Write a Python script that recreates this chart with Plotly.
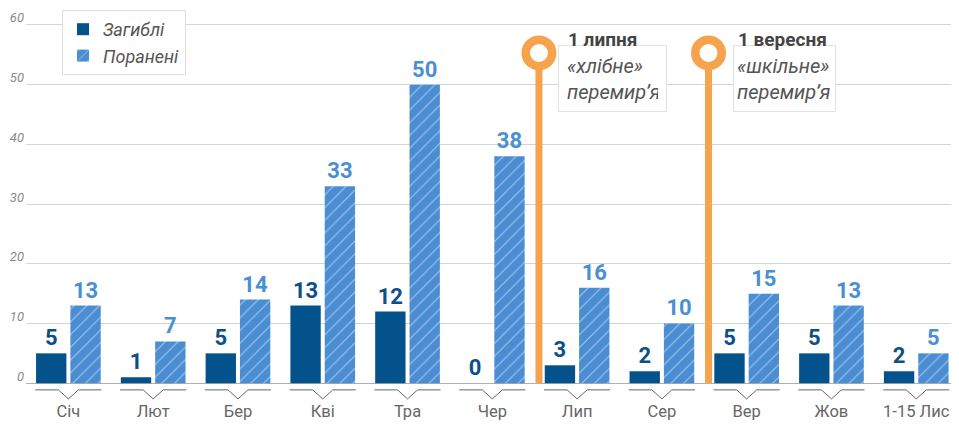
import plotly.graph_objects as go

months = ["Січ", "Лют", "Бер", "Кві", "Тра", "Чер", "Лип", "Сер", "Вер", "Жов", "1-15 Лис"]
killed = [5, 1, 5, 13, 12, 0, 3, 2, 5, 5, 2]
wounded = [13, 7, 14, 33, 50, 38, 16, 10, 15, 13, 5]
series_names = ["Загиблі", "Поранені"]
y_ticks = [0, 10, 20, 30, 40, 50, 60]

truce_months = ["Лип", "Вер"]
truce_titles = ["1 липня", "1 вересня"]
truce_texts = ["«хлібне»<br>перемир’я", "«шкільне»<br>перемир’я"]

DARK = "#04528c"
LIGHT = "#4a8dd2"
ORANGE = "#f7a24d"
FONT = "Roboto"

idx = list(range(len(months)))

fig = go.Figure()

fig.add_trace(go.Bar(
    x=idx, y=killed, name=series_names[0],
    marker=dict(color=DARK, line=dict(width=0)),
    texttemplate="%{y}", textposition="outside", cliponaxis=False,
    constraintext="none",
    textfont=dict(family=FONT, size=22, color="#0d4f88", weight="bold"),
))
fig.add_trace(go.Bar(
    x=idx, y=wounded, name=series_names[1],
    marker=dict(color=LIGHT, line=dict(width=0),
                pattern=dict(shape="/", fgcolor="white", fgopacity=0.5, size=9, solidity=0.12)),
    texttemplate="%{y}", textposition="outside", cliponaxis=False,
    constraintext="none",
    textfont=dict(family=FONT, size=22, color="#4b8fd3", weight="bold"),
))

# bracket under each month group
bx, by = [], []
for i in idx:
    bx += [i - 0.39, i - 0.118, i, i + 0.118, i + 0.39, None]
    by += [-1.12, -1.12, -2.63, -1.12, -1.12, None]
fig.add_trace(go.Scatter(x=bx, y=by, mode="lines", line=dict(color="#666", width=1),
                         showlegend=False, hoverinfo="skip", cliponaxis=False))

# month labels
fig.add_trace(go.Scatter(x=idx, y=[-4.96] * len(idx), mode="text", text=months,
                         textposition="middle center",
                         textfont=dict(family=FONT, size=16.5, color="#666"),
                         showlegend=False, hoverinfo="skip", cliponaxis=False))

# truce markers (start of the month)
for k, m in enumerate(truce_months):
    tx = months.index(m) - 0.45
    fig.add_trace(go.Scatter(x=[tx, tx], y=[0, 55.3], mode="lines",
                             line=dict(color=ORANGE, width=7),
                             showlegend=False, hoverinfo="skip"))
    fig.add_trace(go.Scatter(x=[tx], y=[55.3], mode="markers",
                             marker=dict(size=26.5, color="white",
                                         line=dict(color=ORANGE, width=8.5)),
                             showlegend=False, hoverinfo="skip", cliponaxis=False))
    if k == 0:
        box = dict(xshift=19, borderpad=8, width=91, height=49)
    else:
        box = dict(xshift=24, borderpad=3, width=95, height=59)
    fig.add_annotation(x=tx, y=51.05, text=truce_texts[k], showarrow=False,
                       xanchor="left", yanchor="middle", align="left",
                       bgcolor="white", bordercolor="#e2e2e2", borderwidth=1,
                       font=dict(family=FONT, size=20, color="#555", style="italic"),
                       **box)
    fig.add_annotation(x=tx, y=57.5, text=truce_titles[k], showarrow=False,
                       xanchor="left", yanchor="middle", xshift=27,
                       font=dict(family=FONT, size=19, color="#444", weight="bold"))

fig.update_layout(
    width=943, height=417,
    margin=dict(l=18, r=0, t=2, b=0),
    paper_bgcolor="white", plot_bgcolor="white",
    barmode="group", bargap=0.19, bargroupgap=0.116,
    showlegend=True,
    legend=dict(x=0.0389, y=1.0, xanchor="left", yanchor="top",
                bgcolor="white", bordercolor="#dddddd", borderwidth=1,
                font=dict(family=FONT, size=18, color="#555", style="italic"),
                tracegroupgap=0, itemwidth=30),
    xaxis=dict(range=[-0.5, 10.41], showgrid=False, zeroline=False,
               showticklabels=False, showline=False, fixedrange=True),
    yaxis=dict(range=[-7, 62.5], tickvals=y_ticks, ticktext=[str(v) for v in y_ticks],
               showgrid=True, gridcolor="#d4d4d4", gridwidth=1,
               zeroline=True, zerolinecolor="#b0b0b0", zerolinewidth=1,
               ticks="", ticklabelshift=-7, ticklabelstandoff=1,
               tickfont=dict(family=FONT, size=13, color="#8a8a8a", style="italic"),
               showline=False, fixedrange=True),
)

fig.write_html("out.html")
